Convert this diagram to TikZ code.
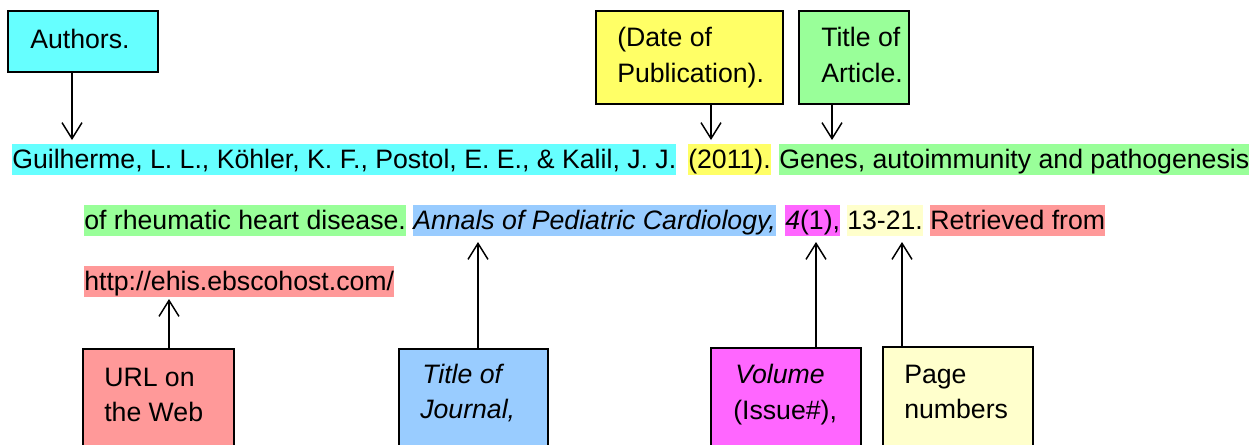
\documentclass[tikz,border=0pt]{standalone}
\usepackage{fontspec}
\setmainfont{Liberation Sans}
\usetikzlibrary{arrows.meta}
\definecolor{hcyan}{HTML}{66FFFF}
\definecolor{hyellow}{HTML}{FFFF66}
\definecolor{hgreen}{HTML}{99FF99}
\definecolor{hblue}{HTML}{99CCFF}
\definecolor{hmagenta}{HTML}{FF66FF}
\definecolor{hlight}{HTML}{FFFFCC}
\definecolor{hred}{HTML}{FF9999}
\tikzset{
  hl/.style={fill=#1, inner sep=0pt, text height=18pt, text depth=5pt, anchor=base west},
  lbl/.style={inner sep=0pt, anchor=base west},
  boxx/.style={draw=black, line width=1.4pt, fill=#1},
  arr/.style={line width=1.1pt, -{Straight Barb[length=12pt,width=15pt,line width=1.1pt]}}
}
\begin{document}
\begin{tikzpicture}[x=0.75pt,y=-0.75pt,font=\fontsize{20}{26.6}\selectfont]
\useasboundingbox (0,0) rectangle (1258,444);
\clip (0,0) rectangle (1258,444);
% boxes
\path[boxx=hcyan] (8,11) rectangle (158,72);
\node[inner sep=0pt, minimum width=150*0.75pt, minimum height=61*0.75pt, anchor=north west] (authors) at (8,11) {};
\path[boxx=hyellow] (596,11) rectangle (783,104);
\node[inner sep=0pt, minimum width=187*0.75pt, minimum height=93*0.75pt, anchor=north west] (date) at (596,11) {};
\path[boxx=hgreen] (799,11) rectangle (909,104);
\node[inner sep=0pt, minimum width=110*0.75pt, minimum height=93*0.75pt, anchor=north west] (title) at (799,11) {};
\path[boxx=hred] (83,349) rectangle (234,460);
\node[inner sep=0pt, minimum width=151*0.75pt, minimum height=111*0.75pt, anchor=north west] (url) at (83,349) {};
\path[boxx=hblue] (399,349) rectangle (548,460);
\node[inner sep=0pt, minimum width=149*0.75pt, minimum height=111*0.75pt, anchor=north west] (journal) at (399,349) {};
\path[boxx=hmagenta] (711,348) rectangle (861,460);
\node[inner sep=0pt, minimum width=150*0.75pt, minimum height=112*0.75pt, anchor=north west] (volume) at (711,348) {};
\path[boxx=hlight] (883,347) rectangle (1033,460);
\node[inner sep=0pt, minimum width=150*0.75pt, minimum height=113*0.75pt, anchor=north west] (pages) at (883,347) {};
% box texts
\node[lbl] (tAuthors) at (30,48) {Authors.};
\node[lbl] (tDate1) at (617,46) {(Date of};
\node[lbl] (tDate2) at (617,82) {Publication).};
\node[lbl] (tTitle1) at (821,46) {Title of};
\node[lbl] (tTitle2) at (821,82) {Article.};
\node[lbl] (tUrl1) at (104,386) {URL on};
\node[lbl] (tUrl2) at (104,421) {the Web};
\node[lbl] (tJour1) at (422,383) {\itshape Title of};
\node[lbl] (tJour2) at (420,418) {\itshape Journal,};
\node[lbl] (tVol1) at (735,383) {\itshape Volume};
\node[lbl] (tVol2) at (733,419) {(Issue\#),};
\node[lbl] (tPage1) at (904,383) {Page};
\node[lbl] (tPage2) at (904,418) {numbers};
% citation
\node[hl=hcyan] (authorsref) at (12,168) {Guilherme, L. L., Köhler, K. F., Postol, E. E., \& Kalil, J. J.};
\node[hl=hyellow] (dateref) at (688,168) {(2011).};
\node[hl=hgreen] (titleref1) at (779,168) {Genes, autoimmunity and pathogenesis};
\node[hl=hgreen] (titleref2) at (84,229) {of rheumatic heart disease.};
\node[hl=hblue] (journalref) at (413,229) {\itshape Annals of Pediatric Cardiology,};
\node[hl=hmagenta] (volref) at (785,229) {\textit{4}(1),};
\node[hl=hlight] (pageref) at (847,229) {13-21.};
\node[hl=hred] (retref) at (930,229) {Retrieved from};
\node[hl=hred] (urlref) at (84,290) {http://ehis.ebscohost.com/};
% arrow tips
\coordinate (pA) at (72,140);
\coordinate (pD) at (711,140);
\coordinate (pT) at (832,140);
\coordinate (pU) at (169,299);
\coordinate (pJ) at (478,242);
\coordinate (pV) at (816,242);
\coordinate (pP) at (902,242);
\draw[arr] (authors.south -| pA) -- (pA);
\draw[arr] (date.south -| pD) -- (pD);
\draw[arr] (title.south -| pT) -- (pT);
\draw[arr] (url.north -| pU) -- (pU);
\draw[arr] (journal.north -| pJ) -- (pJ);
\draw[arr] (volume.north -| pV) -- (pV);
\draw[arr] (pages.north -| pP) -- (pP);
\end{tikzpicture}
\end{document}
